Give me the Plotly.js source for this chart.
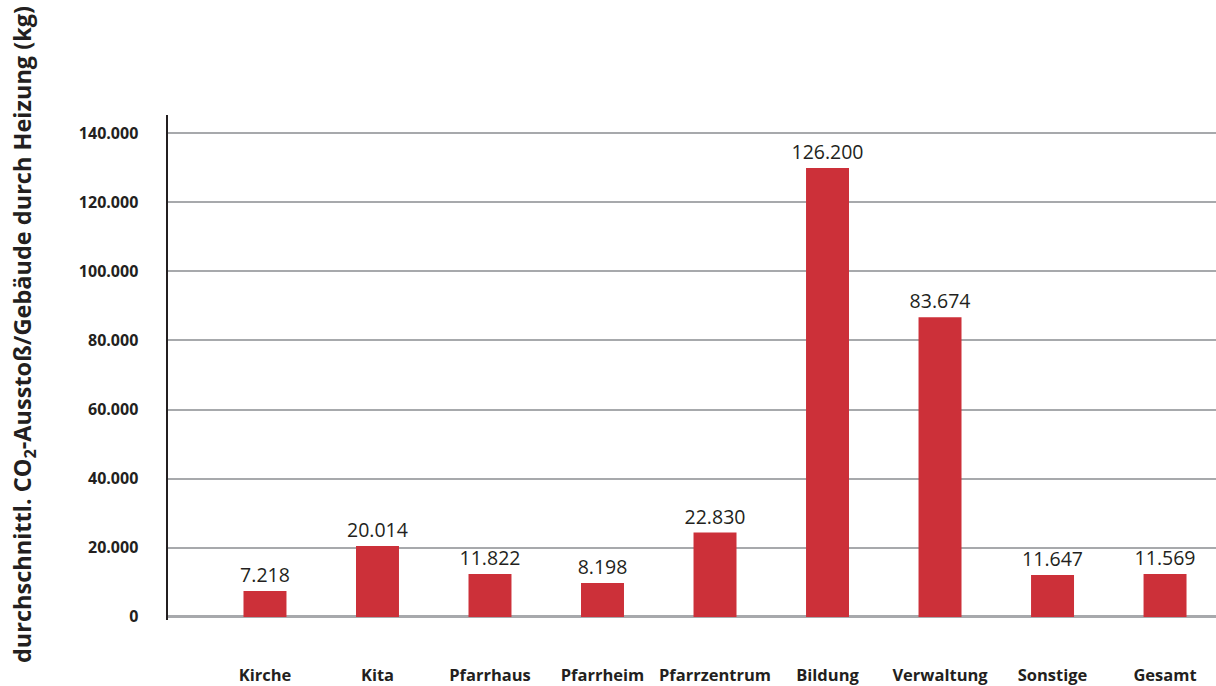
<!DOCTYPE html>
<html>
<head>
<meta charset="utf-8">
<script src="https://cdn.plot.ly/plotly-3.0.1.min.js"></script>
<style>html,body{margin:0;padding:0;background:#fff;}#chart{width:1216px;height:686px;}</style>
</head>
<body>
<div id="chart"></div>
<script>
const categories = ["Kirche", "Kita", "Pfarrhaus", "Pfarrheim", "Pfarrzentrum", "Bildung", "Verwaltung", "Sonstige", "Gesamt"];
const barValues = [7500, 20500, 12400, 9800, 24400, 129900, 86700, 12100, 12400];
const valueLabels = ["7.218", "20.014", "11.822", "8.198", "22.830", "126.200", "83.674", "11.647", "11.569"];
const tickValues = [0, 20000, 40000, 60000, 80000, 100000, 120000, 140000];
const tickLabels = ["0", "20.000", "40.000", "60.000", "80.000", "100.000", "120.000", "140.000"];

const dark = "#231f20";
const fontFam = "'Open Sans', 'DejaVu Sans', sans-serif";

const trace = {
  type: "bar",
  x: categories,
  y: barValues,
  text: valueLabels,
  textposition: "outside",
  constraintext: "none",
  cliponaxis: false,
  textfont: {family: fontFam, size: 19.5, color: dark},
  outsidetextfont: {family: fontFam, size: 19.5, color: dark},
  marker: {color: "#cc3039"},
  width: 0.382,
  hoverinfo: "none"
};

const layout = {
  width: 1216,
  height: 686,
  margin: {l: 168, r: 0, t: 115, b: 66},
  paper_bgcolor: "#ffffff",
  plot_bgcolor: "#ffffff",
  showlegend: false,
  uniformtext: {mode: false},
  xaxis: {
    type: "category",
    range: [-0.862, 8.453],
    showgrid: false,
    zeroline: false,
    showline: false,
    ticks: "",
    ticklabelstandoff: 43,
    tickfont: {family: fontFam, size: 16.5, color: dark, weight: "bold"}
  },
  yaxis: {
    range: [-900, 145200],
    tickvals: tickValues,
    ticktext: tickLabels,
    showgrid: true,
    gridcolor: "#a7a9ac",
    gridwidth: 2,
    zeroline: true,
    zerolinecolor: "#a7a9ac",
    zerolinewidth: 3,
    showline: true,
    linecolor: dark,
    linewidth: 2.5,
    ticks: "",
    ticklabelstandoff: 24,
    tickfont: {family: fontFam, size: 16, color: dark, weight: "bold"}
  },
  annotations: [{
    text: "durchschnittl. CO<sub>2</sub>-Ausstoß/Gebäude durch Heizung (kg)",
    xref: "paper", yref: "paper",
    x: (23 - 168) / 1048, y: (620 - 335) / 505,
    xanchor: "center", yanchor: "middle",
    textangle: -90,
    showarrow: false,
    font: {family: fontFam, size: 23.5, color: dark, weight: "bold"}
  }]
};

Plotly.newPlot("chart", [trace], layout, {staticPlot: true, displayModeBar: false});
</script>
</body>
</html>
